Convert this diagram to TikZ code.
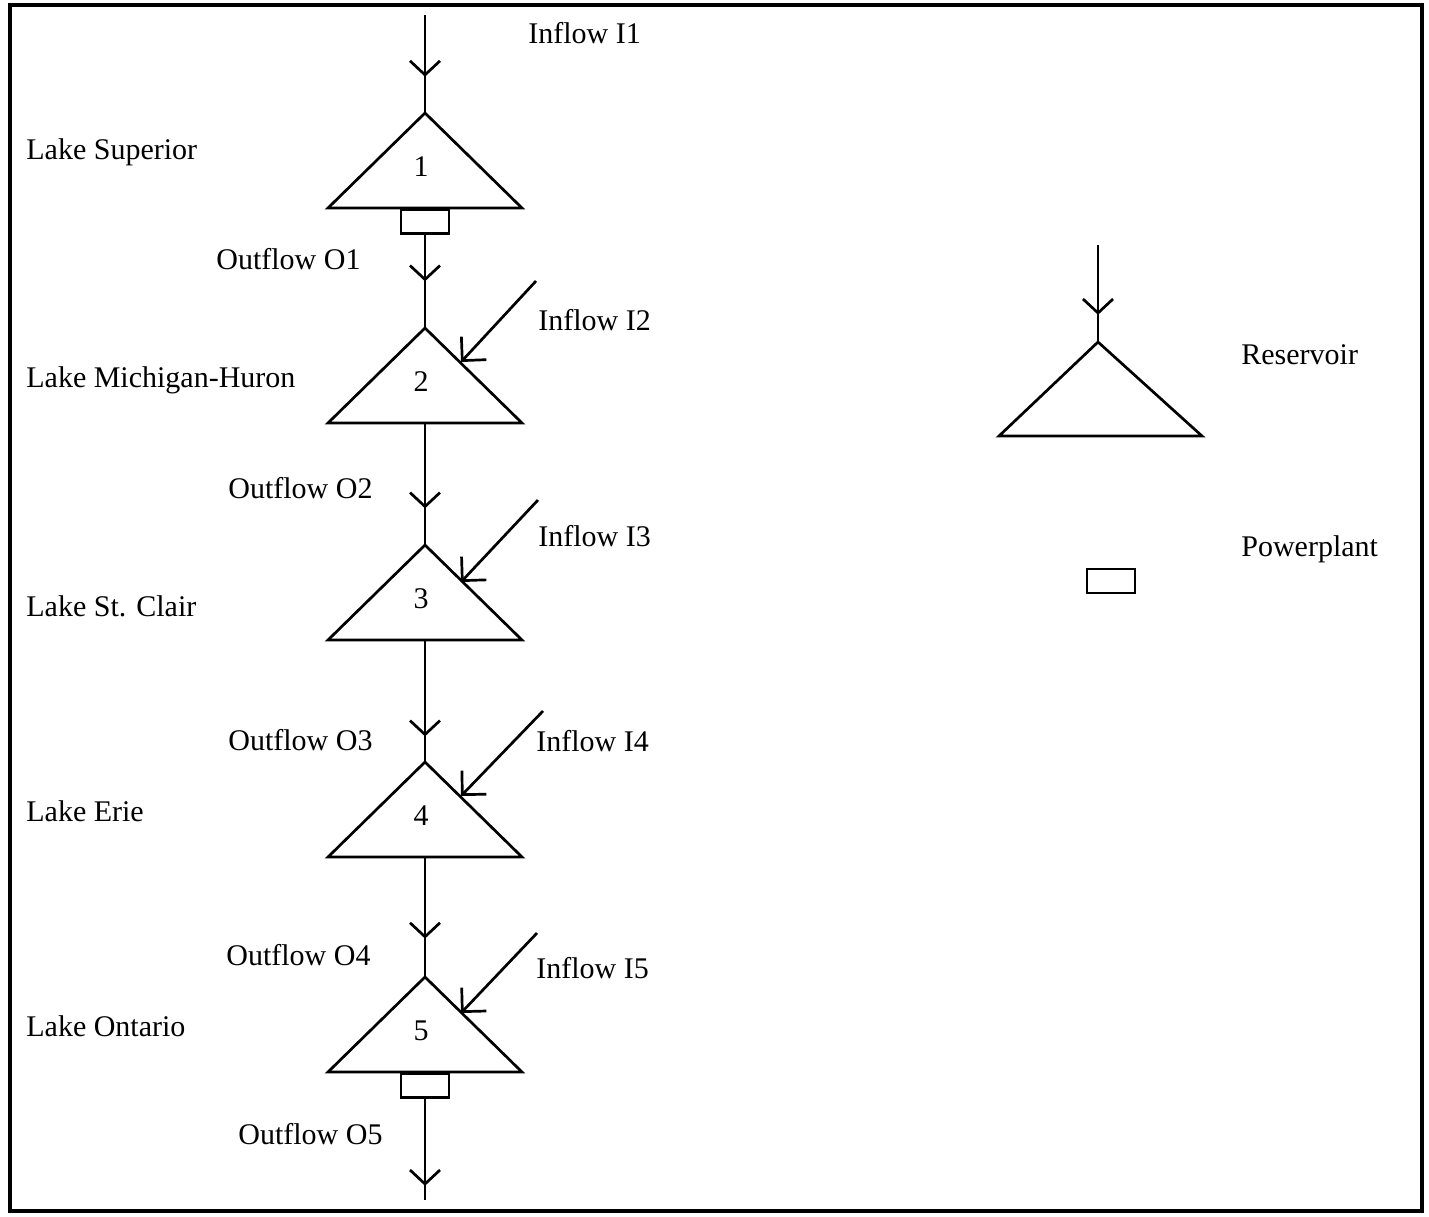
\documentclass[tikz,border=0pt]{standalone}
\usepackage{fontspec}
\setmainfont{Liberation Serif}
\usetikzlibrary{arrows.meta,decorations.markings}

\tikzset{
  flow/.style={decoration={markings,
      mark=at position #1 with {\arrow{Straight Barb[length=7pt,width=15pt]}}},
    postaction={decorate}},
  inflow/.style={-{Straight Barb[length=8.5pt,width=17pt]}},
  lbl/.style={anchor=west, inner sep=0pt, font=\fontsize{15}{18}\selectfont},
  plant/.style={draw, minimum width=24pt, minimum height=12pt, inner sep=0pt},
}

\begin{document}
\begin{tikzpicture}[x=0.5pt, y=-0.5pt, line width=1.35pt]
  \useasboundingbox (0,0) rectangle (1429,1216);
  \draw[line width=1.6pt] (10,5) rectangle (1422,1211);

  % lakes
  \foreach \n/\y in {1/113, 2/328, 3/545, 4/762, 5/977} {
    \coordinate (top\n) at (425,\y);
    \coordinate (base\n) at (425,\y+95);
    \draw (top\n) -- ++(-97,95) -- ++(194,0) -- cycle;
    \node[lbl, anchor=center] (num\n) at (421,\y+54) {\n};
  }

  \node[plant, anchor=north] (pp1) at (base1) {};
  \node[plant, anchor=north] (pp5) at (base5) {};

  % outflows
  \coordinate (src1) at (425,15);
  \coordinate (sink) at (425,1200);
  \draw[flow=0.63] (src1) -- (top1);
  \draw[flow=0.5] (pp1.south) -- (top2);
  \draw[flow=0.7] (base2) -- (top3);
  \draw[flow=0.79] (base3) -- (top4);
  \draw[flow=0.68] (base4) -- (top5);
  \draw[flow=0.86] (pp5.south) -- (sink);

  % inflows
  \foreach \n/\sx/\sy/\tx/\ty in {2/536/281/461/362, 3/538/500/461/582,
      4/543/711/461/796, 5/537/933/461/1013} {
    \coordinate (in\n) at (\sx,\sy);
    \coordinate (hit\n) at (\tx,\ty);
    \draw[inflow] (in\n) -- (hit\n);
  }

  \node[lbl] (lake1) at (25,152) {Lake Superior};
  \node[lbl] (lake2) at (25,380) {Lake Michigan-Huron};
  \node[lbl] (lake3) at (25,606) {Lake St. Clair};
  \node[lbl] (lake4) at (25,811) {Lake Erie};
  \node[lbl] (lake5) at (25,1026) {Lake Ontario};

  \node[lbl] (out1) at (215,259) {Outflow O1};
  \node[lbl] (out2) at (227,488) {Outflow O2};
  \node[lbl] (out3) at (227,740) {Outflow O3};
  \node[lbl] (out4) at (225,955) {Outflow O4};
  \node[lbl] (out5) at (237,1134) {Outflow O5};

  \node[lbl] (lbin1) at (527,33) {Inflow I1};
  \node[lbl] (lbin2) at (537,320) {Inflow I2};
  \node[lbl] (lbin3) at (537,536) {Inflow I3};
  \node[lbl] (lbin4) at (535,741) {Inflow I4};
  \node[lbl] (lbin5) at (535,968) {Inflow I5};

  % legend
  \coordinate (keysrc) at (1098,245);
  \coordinate (keytop) at (1098,342);
  \draw[flow=0.72] (keysrc) -- (keytop);
  \draw (keytop) -- (999,436) -- (1202,436) -- cycle;
  \node[plant] (keypp) at (1111,581) {};
  \node[lbl] (reservoir) at (1240,355) {Reservoir};
  \node[lbl] (powerplant) at (1240,549) {Powerplant};
\end{tikzpicture}
\end{document}
